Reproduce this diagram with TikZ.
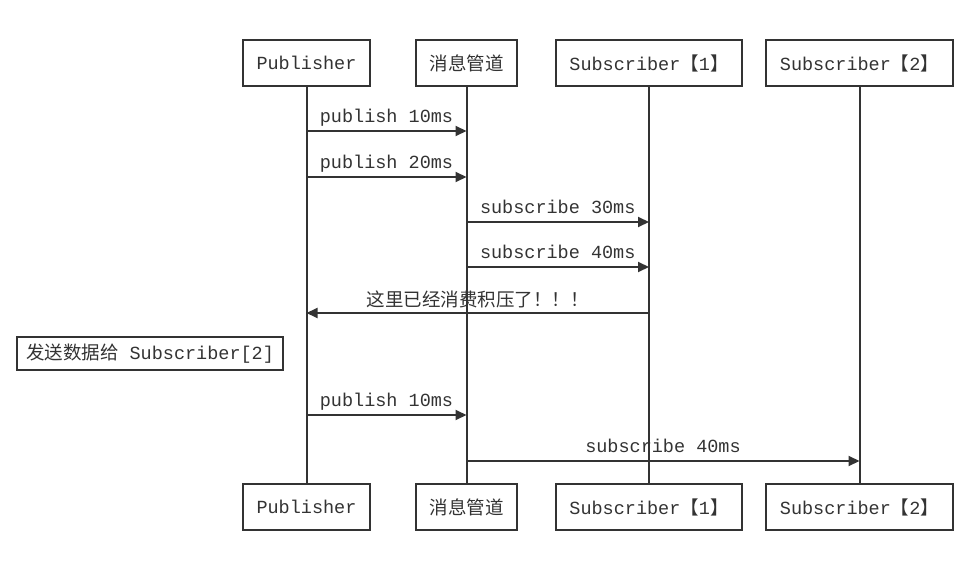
\documentclass[tikz,border=0pt]{standalone}
\usepackage{fontspec}
\setmonofont{Liberation Mono}
\newfontfamily\cjk{Noto Sans CJK SC}
\usetikzlibrary{arrows.meta}
\colorlet{lifegrey}{white!20!black}

\begin{document}
\begin{tikzpicture}[
    x=1pt,y=-1pt,
    every node/.style={font=\fontsize{18.5}{22}\selectfont\ttfamily,text=lifegrey},
    actor/.style={draw=lifegrey,line width=2pt,fill=white,minimum height=46},
    lifeline/.style={draw=lifegrey,line width=2pt},
    msg/.style={-{Triangle[length=11pt,width=10pt]},draw=lifegrey,line width=2pt},
    msg label/.style={above,inner sep=3pt,text depth=4.5pt},
    note/.style={draw=lifegrey,line width=2pt,anchor=west,inner xsep=9pt,minimum height=33}
]

\useasboundingbox (0,0) rectangle (977,564);

% top row
\node [actor,minimum width=127] (pubT)  at (306.5,63) {Publisher};
\node [actor,minimum width=101] (pipeT) at (466.5,63) {\cjk 消息管道};
\node [actor,minimum width=186] (subAT) at (649,63)   {Subscriber{\cjk【}1{\cjk】}};
\node [actor,minimum width=187] (subBT) at (859.5,63) {Subscriber{\cjk【}2{\cjk】}};

% bottom row
\node [actor,minimum width=127] (pubB)  at (306.5,507) {Publisher};
\node [actor,minimum width=101] (pipeB) at (466.5,507) {\cjk 消息管道};
\node [actor,minimum width=186] (subAB) at (649,507)   {Subscriber{\cjk【}1{\cjk】}};
\node [actor,minimum width=187] (subBB) at (859.5,507) {Subscriber{\cjk【}2{\cjk】}};

% messages
\draw [msg] (pubT |- 0,131) -- (pipeT |- 0,131) node [msg label,midway] {publish 10ms};
\draw [msg] (pubT |- 0,177) -- (pipeT |- 0,177) node [msg label,midway] {publish 20ms};
\draw [msg] (pipeT |- 0,222) -- (subAT |- 0,222) node [msg label,midway] {subscribe 30ms};
\draw [msg] (pipeT |- 0,267) -- (subAT |- 0,267) node [msg label,midway] {subscribe 40ms};
\draw [msg] (subAT |- 0,313) -- (pubT |- 0,313) node [msg label,midway,inner sep=1pt] {\cjk 这里已经消费积压了！！！};

\node [note] (send) at (16,353.5) {{\cjk 发送数据给}\ Subscriber[2]};

\draw [msg] (pubT |- 0,415) -- (pipeT |- 0,415) node [msg label,midway] {publish 10ms};
\draw [msg] (pipeT |- 0,461) -- (subBT |- 0,461) node [msg label,midway] {subscribe 40ms};

% lifelines over the labels
\draw [lifeline] (pubT.south)  -- (pubB.north);
\draw [lifeline] (pipeT.south) -- (pipeB.north);
\draw [lifeline] (subAT.south) -- (subAB.north);
\draw [lifeline] (subBT.south) -- (subBB.north);

\end{tikzpicture}
\end{document}
